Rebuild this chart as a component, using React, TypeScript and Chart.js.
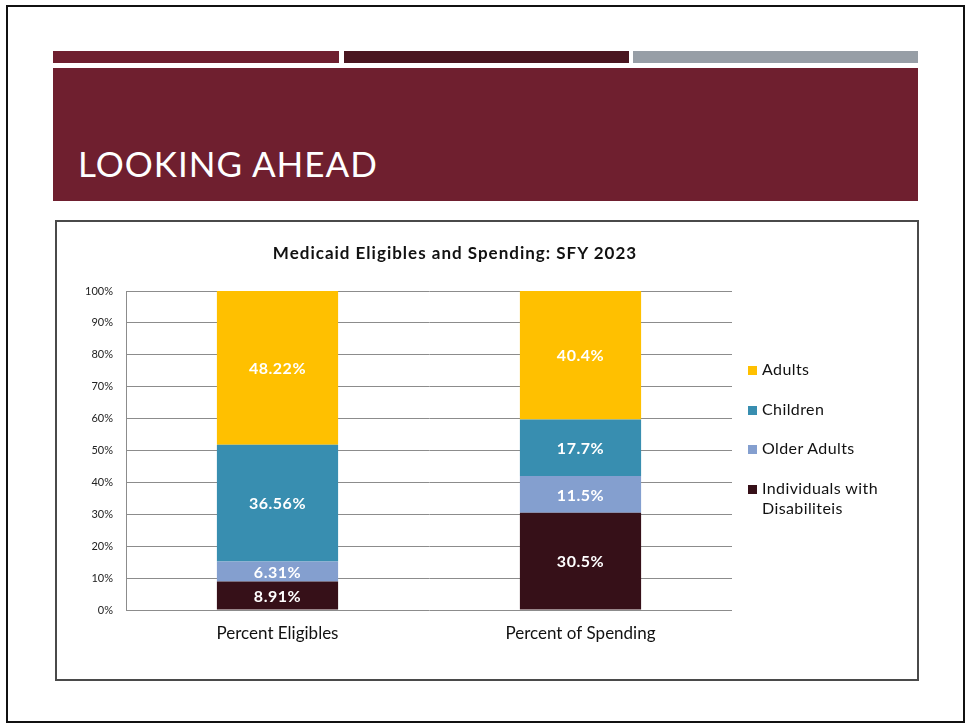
import React, { useEffect, useRef } from "react";
import { Chart, registerables } from "chart.js";

Chart.register(...registerables);

const chartTitle = "Medicaid Eligibles and Spending: SFY 2023";
const categories = ["Percent Eligibles", "Percent of Spending"];
const disabilities = [8.91, 30.5];
const olderAdults = [6.31, 11.5];
const children = [36.56, 17.7];
const adults = [48.22, 40.4];
const yMax = 100;
const yStep = 10;

const seriesNames = ["Individuals with Disabiliteis", "Older Adults", "Children", "Adults"];
const seriesValues = [disabilities, olderAdults, children, adults];
const seriesColors = ["#361018", "#849FCF", "#388EB0", "#FFC000"];

const FONT = "Lato, 'Open Sans', sans-serif";

const segLabels = {
  id: "segLabels",
  afterDatasetsDraw(chart: any) {
    const ctx = chart.ctx;
    ctx.save();
    ctx.font = "bold 16px " + FONT;
    ctx.fillStyle = "#ffffff";
    ctx.textAlign = "center";
    ctx.textBaseline = "middle";
    try { (ctx as any).letterSpacing = "0.5px"; } catch (e) {}
    chart.data.datasets.forEach((ds: any, i: number) => {
      const meta = chart.getDatasetMeta(i);
      meta.data.forEach((el: any, j: number) => {
        const top = Math.max(el.y, chart.chartArea.top);
        const cy = (top + el.base) / 2;
        ctx.fillText(String(ds.data[j]) + "%", el.x, cy + 1);
      });
    });
    ctx.restore();
  },
};

function ChartCanvas() {
  const ref = useRef<HTMLCanvasElement | null>(null);
  useEffect(() => {
    if (!ref.current) return;
    Chart.defaults.font.family = FONT;
    const chart = new Chart(ref.current, {
      type: "bar",
      data: {
        labels: categories,
        datasets: seriesNames.map((name, i) => ({
          label: name,
          data: seriesValues[i],
          backgroundColor: seriesColors[i],
          borderWidth: 0,
          barPercentage: 0.4,
          categoryPercentage: 1,
        })),
      },
      options: {
        responsive: false,
        animation: false,
        devicePixelRatio: 1,
        layout: { padding: { top: 69, right: 185, bottom: 0, left: 0 } },
        plugins: {
          legend: { display: false },
          title: { display: false },
          tooltip: { enabled: false },
        },
        scales: {
          x: {
            stacked: true,
            grid: { display: false, drawTicks: false },
            border: { display: false },
            ticks: { color: "#111", font: { size: 17 }, padding: 13 },
            afterFit: (s: any) => { s.height = 69; },
          },
          y: {
            stacked: true,
            min: 0,
            max: yMax,
            grid: { color: "#8c8c8c", lineWidth: 1, drawTicks: false },
            border: { display: true, color: "#8c8c8c", width: 1 },
            ticks: {
              stepSize: yStep,
              color: "#222",
              font: { size: 11 },
              padding: 13,
              callback: (v: any) => v + "%",
            },
            afterFit: (s: any) => { s.width = 69; },
          },
        },
      },
      plugins: [segLabels],
    });
    return () => chart.destroy();
  }, []);
  return (
    <canvas
      ref={ref}
      width={860}
      height={457}
      style={{ position: "absolute", left: 57, top: 222, width: 860, height: 457 }}
    />
  );
}

const legendOrder = [3, 2, 1, 0];
const legendBaselines = [375, 415, 454, 494];

export default function App() {
  return (
    <div
      style={{
        position: "absolute",
        left: 0,
        top: 0,
        width: 966,
        height: 724,
        background: "#fff",
        fontFamily: FONT,
        overflow: "hidden",
      }}
    >
      <div style={{ position: "absolute", left: 6, top: 5, width: 959, height: 718, border: "2px solid #111", boxSizing: "border-box" }} />
      <div style={{ position: "absolute", left: 53, top: 51, width: 286, height: 12, background: "#6F1F2F" }} />
      <div style={{ position: "absolute", left: 344, top: 51, width: 285, height: 12, background: "#4A1620" }} />
      <div style={{ position: "absolute", left: 633, top: 51, width: 285, height: 12, background: "#979EA6" }} />
      <div style={{ position: "absolute", left: 53, top: 68, width: 865, height: 133, background: "#6F1F2F" }} />
      <div
        style={{
          position: "absolute",
          left: 78,
          top: 146,
          fontSize: 35,
          lineHeight: "35px",
          color: "#fff",
          whiteSpace: "nowrap",
          letterSpacing: "1px",
        }}
      >
        LOOKING AHEAD
      </div>
      <div style={{ position: "absolute", left: 55, top: 220, width: 864, height: 461, border: "2px solid #4a4a4a", boxSizing: "border-box" }} />
      <ChartCanvas />
      <div
        style={{
          position: "absolute",
          left: 0,
          width: 910,
          top: 244,
          fontSize: 17,
          lineHeight: "17px",
          fontWeight: 700,
          textAlign: "center",
          color: "#111",
          whiteSpace: "nowrap",
          letterSpacing: "1px",
        }}
      >
        {chartTitle}
      </div>
      {legendOrder.map((si, k) => (
        <React.Fragment key={si}>
          <div
            style={{
              position: "absolute",
              left: 748,
              top: legendBaselines[k] - 9,
              width: 9,
              height: 9,
              background: seriesColors[si],
            }}
          />
          <div
            style={{
              position: "absolute",
              left: 762,
              top: legendBaselines[k] - 14 - 2,
              width: 145,
              fontSize: 16,
              lineHeight: "20px",
              color: "#111",
              letterSpacing: "0.4px",
            }}
          >
            {seriesNames[si]}
          </div>
        </React.Fragment>
      ))}
    </div>
  );
}
